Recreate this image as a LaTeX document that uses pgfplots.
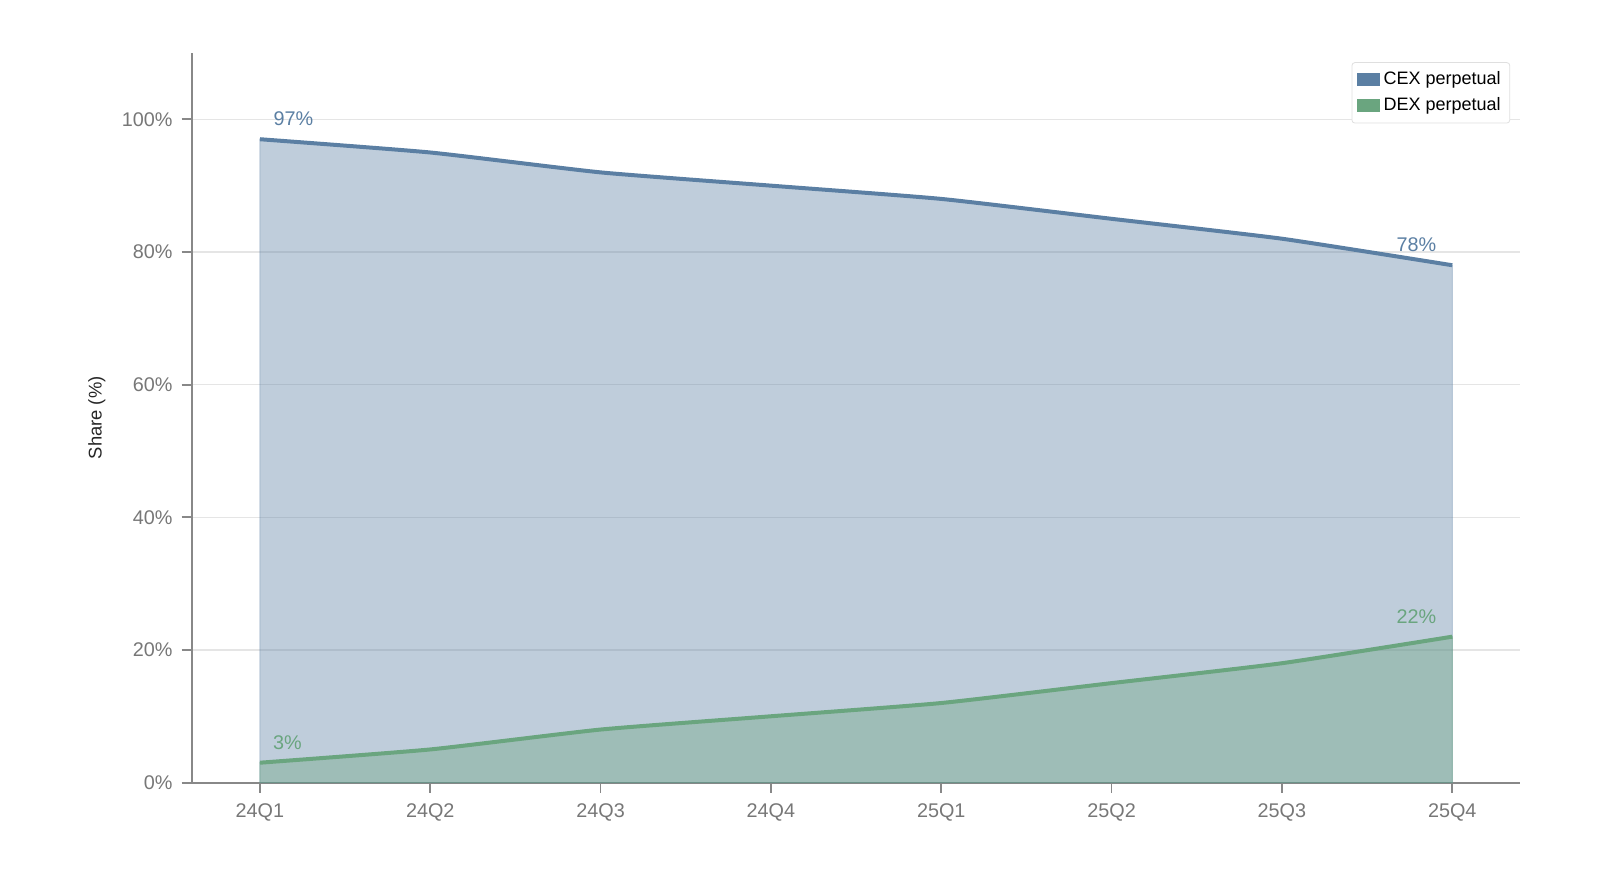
\documentclass[border=0pt]{standalone}
\usepackage{pgfplots}
\pgfplotsset{compat=1.18}
\usepackage{fontspec}
\setmainfont{Liberation Sans}
\definecolor{cex}{HTML}{5B7FA3}
\definecolor{dex}{HTML}{6AA57F}
\definecolor{axgray}{HTML}{888888}
\definecolor{tickgray}{HTML}{777777}
\definecolor{gridgray}{HTML}{E5E5E5}
\begin{document}
\begin{tikzpicture}
\path[use as bounding box] (-95.9pt,-53.6pt) rectangle (704.1pt,391.3pt);
\begin{axis}[
  at={(0,0)}, anchor=south west,
  scale only axis, width=664.3pt, height=364.8pt,
  xmin=-0.4, xmax=7.4, ymin=0, ymax=110,
  axis lines*=left,
  axis line style={axgray, line width=0.9pt},
  xtick={0,...,7},
  xticklabels={24Q1,24Q2,24Q3,24Q4,25Q1,25Q2,25Q3,25Q4},
  ytick={0,20,40,60,80,100},
  yticklabels={0\%,20\%,40\%,60\%,80\%,100\%},
  tick align=outside, major tick length=5.1pt,
  tick style={axgray, line width=0.9pt},
  ymajorgrids, grid style={gridgray, line width=0.6pt},
  ticklabel style={font=\fontsize{9.9}{11}\selectfont, text=tickgray},
  yticklabel style={xshift=-1pt},
  xticklabel style={yshift=-2pt},
  ylabel={Share (\%)},
  ylabel style={at={(axis description cs:-0.0714,0.5)}, anchor=center, font=\fontsize{9.2}{11}\selectfont, text=black!85},
  legend style={at={(rel axis cs:1,1)}, xshift=-5.1pt, yshift=-4.6pt, anchor=north east,
    draw=gray!25, rounded corners=1.5pt, fill=white, font=\fontsize{9}{10.5}\selectfont,
    row sep=1pt, inner sep=2.6pt},
  legend cell align=left,
  legend image code/.code={\fill[#1, draw=none, sharp corners] (0pt,-3.3pt) rectangle (11.2pt,3.3pt);},
  clip=false,
]
\addplot[forget plot, smooth, tension=0.3, fill=cex, fill opacity=0.39, draw=cex, draw opacity=0.35, line width=0.5pt]
  coordinates {(0,97)(1,95)(2,92)(3,90)(4,88)(5,85)(6,82)(7,78)} \closedcycle;
\addplot[forget plot, smooth, tension=0.3, fill=dex, fill opacity=0.39, draw=dex, draw opacity=0.35, line width=0.5pt]
  coordinates {(0,3)(1,5)(2,8)(3,10)(4,12)(5,15)(6,18)(7,22)} \closedcycle;
\addplot[forget plot, smooth, tension=0.3, cex, line width=2pt]
  coordinates {(0,97)(1,95)(2,92)(3,90)(4,88)(5,85)(6,82)(7,78)};
\addplot[forget plot, smooth, tension=0.3, dex, line width=2pt]
  coordinates {(0,3)(1,5)(2,8)(3,10)(4,12)(5,15)(6,18)(7,22)};
\addlegendimage{fill=cex, draw=none}
\addlegendentry{CEX perpetual}
\addlegendimage{fill=dex, draw=none}
\addlegendentry{DEX perpetual}
\node[text=cex, font=\fontsize{9.9}{11}\selectfont, xshift=16.8pt, yshift=10.2pt] at (axis cs:0,97) {97\%};
\node[text=dex, font=\fontsize{9.9}{11}\selectfont, xshift=13.8pt, yshift=10.2pt] at (axis cs:0,3) {3\%};
\node[text=cex, font=\fontsize{9.9}{11}\selectfont, xshift=-17.9pt, yshift=10.2pt] at (axis cs:7,78) {78\%};
\node[text=dex, font=\fontsize{9.9}{11}\selectfont, xshift=-17.9pt, yshift=10.2pt] at (axis cs:7,22) {22\%};
\end{axis}
\end{tikzpicture}
\end{document}
